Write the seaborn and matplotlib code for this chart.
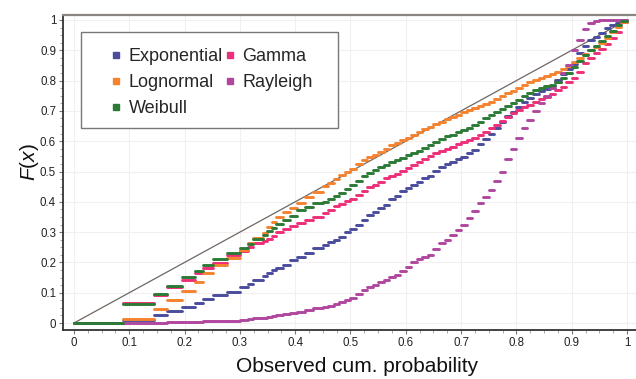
import matplotlib
matplotlib.use("Agg")
import matplotlib.pyplot as plt
import seaborn as sns
import pandas as pd
from matplotlib.lines import Line2D
from matplotlib.patches import Rectangle
from matplotlib.ticker import MultipleLocator

# Observed cumulative probability: edges of the tied groups (shared by all fits)
obs_edges = [0, 0.089, 0.145, 0.169, 0.195, 0.219, 0.233, 0.251, 0.277, 0.300,
             0.315, 0.324, 0.342, 0.349, 0.358, 0.365, 0.378, 0.39, 0.403, 0.418,
             0.432, 0.45,
             0.46, 0.47, 0.48, 0.49, 0.50, 0.51, 0.52, 0.53, 0.54, 0.55,
             0.56, 0.57, 0.58, 0.59, 0.60, 0.61, 0.62, 0.63, 0.64, 0.65,
             0.66, 0.67, 0.68, 0.69, 0.70, 0.71, 0.72, 0.73, 0.74, 0.75,
             0.76, 0.77, 0.78, 0.79, 0.80, 0.81, 0.82, 0.83, 0.84, 0.85,
             0.86, 0.87, 0.88, 0.89, 0.90, 0.91, 0.92, 0.93, 0.94, 0.95,
             0.96, 0.97, 0.98, 0.99, 1.0]

F_exponential = [0, 0.01, 0.026, 0.04, 0.053, 0.066, 0.079, 0.092, 0.102, 0.119,
                 0.129, 0.142, 0.155, 0.165, 0.175, 0.183, 0.191, 0.208, 0.218, 0.231,
                 0.248,
                 0.258, 0.266, 0.274, 0.285, 0.30, 0.31, 0.325, 0.34, 0.355, 0.366,
                 0.378, 0.39, 0.408, 0.42, 0.435, 0.445, 0.457, 0.466, 0.478, 0.486,
                 0.503, 0.515, 0.525, 0.532, 0.542, 0.549, 0.56, 0.572, 0.59, 0.607,
                 0.625, 0.645, 0.665, 0.682, 0.697, 0.712, 0.728, 0.742, 0.755, 0.765,
                 0.773, 0.783, 0.803, 0.822, 0.838, 0.855, 0.89, 0.915, 0.935, 0.945,
                 0.958, 0.972, 0.983, 0.99, 1.0]
F_gamma = [0, 0.066, 0.092, 0.118, 0.143, 0.165, 0.181, 0.198, 0.224, 0.238,
           0.251, 0.264, 0.27, 0.277, 0.287, 0.30, 0.31, 0.32, 0.33, 0.34,
           0.35,
           0.362, 0.374, 0.385, 0.393, 0.402, 0.41, 0.422, 0.436, 0.448, 0.456,
           0.466, 0.477, 0.485, 0.493, 0.503, 0.513, 0.522, 0.53, 0.54, 0.55,
           0.56, 0.568, 0.575, 0.582, 0.59, 0.596, 0.603, 0.612, 0.622, 0.632,
           0.642, 0.655, 0.668, 0.68, 0.692, 0.702, 0.712, 0.72, 0.73, 0.738,
           0.747, 0.755, 0.768, 0.78, 0.795, 0.81, 0.83, 0.858, 0.876, 0.892,
           0.905, 0.92, 0.94, 0.962, 0.995]
F_lognormal = [0, 0.014, 0.046, 0.076, 0.106, 0.135, 0.165, 0.19, 0.214, 0.24,
               0.265, 0.28, 0.297, 0.317, 0.333, 0.35, 0.366, 0.38, 0.396, 0.416,
               0.432,
               0.452, 0.462, 0.474, 0.487, 0.497, 0.508, 0.525, 0.537, 0.547, 0.555,
               0.563, 0.575, 0.586, 0.593, 0.603, 0.612, 0.62, 0.629, 0.64, 0.648,
               0.657, 0.664, 0.673, 0.68, 0.688, 0.695, 0.702, 0.708, 0.716, 0.724,
               0.731, 0.738, 0.748, 0.758, 0.767, 0.775, 0.785, 0.794, 0.803, 0.81,
               0.815, 0.821, 0.83, 0.838, 0.848, 0.86, 0.875, 0.888, 0.9, 0.91,
               0.925, 0.942, 0.962, 0.978, 0.995]
F_rayleigh = [0, 0, 0.001, 0.002, 0.003, 0.004, 0.005, 0.006, 0.008, 0.01,
              0.012, 0.015, 0.017, 0.019, 0.022, 0.025, 0.029, 0.033, 0.037, 0.042,
              0.048,
              0.053, 0.057, 0.062, 0.068, 0.075, 0.083, 0.095, 0.11, 0.12, 0.127,
              0.135, 0.143, 0.152, 0.16, 0.17, 0.185, 0.2, 0.21, 0.218, 0.226,
              0.245, 0.265, 0.275, 0.292, 0.308, 0.323, 0.345, 0.368, 0.395, 0.415,
              0.44, 0.47, 0.5, 0.54, 0.575, 0.61, 0.645, 0.67, 0.7, 0.725,
              0.748, 0.775, 0.795, 0.825, 0.85, 0.9, 0.935, 0.97, 0.99, 0.998,
              1.0, 1.0, 1.0, 1.0, 1.0]
F_weibull = [0, 0.062, 0.096, 0.122, 0.152, 0.172, 0.191, 0.211, 0.231, 0.248,
             0.261, 0.277, 0.29, 0.304, 0.315, 0.327, 0.34, 0.353, 0.373, 0.383,
             0.396,
             0.4, 0.408, 0.42, 0.43, 0.443, 0.455, 0.47, 0.485, 0.496, 0.505,
             0.515, 0.523, 0.53, 0.537, 0.545, 0.553, 0.56, 0.567, 0.578, 0.588,
             0.598, 0.607, 0.616, 0.622, 0.63, 0.636, 0.645, 0.655, 0.664, 0.676,
             0.688, 0.697, 0.706, 0.716, 0.726, 0.736, 0.748, 0.76, 0.77, 0.777,
             0.781, 0.786, 0.795, 0.81, 0.825, 0.845, 0.865, 0.885, 0.9, 0.915,
             0.93, 0.948, 0.965, 0.982, 0.998]

dist_names = ["Exponential", "Gamma", "Lognormal", "Rayleigh", "Weibull"]
dist_values = [F_exponential, F_gamma, F_lognormal, F_rayleigh, F_weibull]
colors = {"Exponential": "#4a4c9c", "Gamma": "#ec2f78", "Lognormal": "#f5822e",
          "Rayleigh": "#b0479f", "Weibull": "#2b7a35"}
tick_labels = ["0", "0.1", "0.2", "0.3", "0.4", "0.5", "0.6", "0.7", "0.8", "0.9", "1"]

rows = []
for name, vals in zip(dist_names, dist_values):
    n = min(len(vals), len(obs_edges) - 1)
    for i in range(n):
        seg = f"{name}-{i}"
        rows.append({"obs": obs_edges[i], "F": vals[i], "dist": name, "seg": seg})
        rows.append({"obs": obs_edges[i + 1], "F": vals[i], "dist": name, "seg": seg})
df = pd.DataFrame(rows)

sns.set_theme(style="white")
plt.rcParams["font.family"] = ["Liberation Sans", "DejaVu Sans"]
plt.rcParams["mathtext.fontset"] = "custom"
plt.rcParams["mathtext.it"] = "Liberation Sans:italic"
plt.rcParams["mathtext.rm"] = "Liberation Sans"

fig = plt.figure(figsize=(6.36, 3.79), dpi=100)
ax = fig.add_axes([63 / 636, 49 / 379, 573 / 636, 315 / 379])

ax.plot([0, 1], [0, 1], color="#6e6662", lw=0.9, zorder=1)
sns.lineplot(data=df, x="obs", y="F", hue="dist", hue_order=dist_names,
             units="seg", estimator=None, sort=False, palette=colors,
             lw=2.1, legend=False, ax=ax, zorder=2)

ax.set_xlim(-0.0199, 1.0163)
ax.set_ylim(-0.0231, 1.0165)
ticks = [i / 10 for i in range(11)]
ax.set_xticks(ticks)
ax.set_xticklabels(tick_labels)
ax.set_yticks(ticks)
ax.set_yticklabels(tick_labels)
ax.xaxis.set_minor_locator(MultipleLocator(0.025))
ax.yaxis.set_minor_locator(MultipleLocator(0.025))
ax.tick_params(axis="both", which="major", length=3, width=0.8, color="#777777",
               labelsize=8.3, labelcolor="#222222", pad=2, direction="out",
               bottom=True, left=True)
ax.tick_params(axis="both", which="minor", length=2, width=0.6, color="#999999",
               direction="out", bottom=True, left=True)
ax.grid(True, which="major", color="#f1efef", lw=0.8)
ax.set_axisbelow(True)

for side in ["left", "bottom"]:
    ax.spines[side].set_color("#333333")
    ax.spines[side].set_linewidth(1.3)
ax.spines["top"].set_color("#8a8682")
ax.spines["top"].set_linewidth(1.6)
ax.spines["right"].set_visible(False)

ax.set_xlabel("Observed cum. probability", fontsize=15, color="#111111")
ax.xaxis.set_label_coords((357 - 63) / 573, -(357 - 330) / 315)
ax.set_ylabel(r"$F(x)$", fontsize=15, color="#111111")
ax.yaxis.set_label_coords(-(63 - 41) / 573, (330 - 162) / 315)

# Legend box
ax.add_patch(Rectangle(((81 - 63) / 573, (330 - 128) / 315), 257 / 573, 96 / 315,
                       transform=ax.transAxes, facecolor="white",
                       edgecolor="#777777", lw=1.0, zorder=5))
handles = [Line2D([], [], ls="none", marker="s", markersize=5,
                  color=colors[n], label=n)
           for n in ["Exponential", "Lognormal", "Weibull", "Gamma", "Rayleigh"]]
leg = ax.legend(handles=handles, ncol=2, loc="upper left",
                bbox_to_anchor=((110 - 63) / 573, (330 - 48) / 315),
                frameon=False, fontsize=13, handlelength=0.7, handletextpad=0.35,
                columnspacing=0.0, labelspacing=0.5, borderpad=0, borderaxespad=0)
leg.set_zorder(6)

fig.savefig("out.png", dpi=100)
